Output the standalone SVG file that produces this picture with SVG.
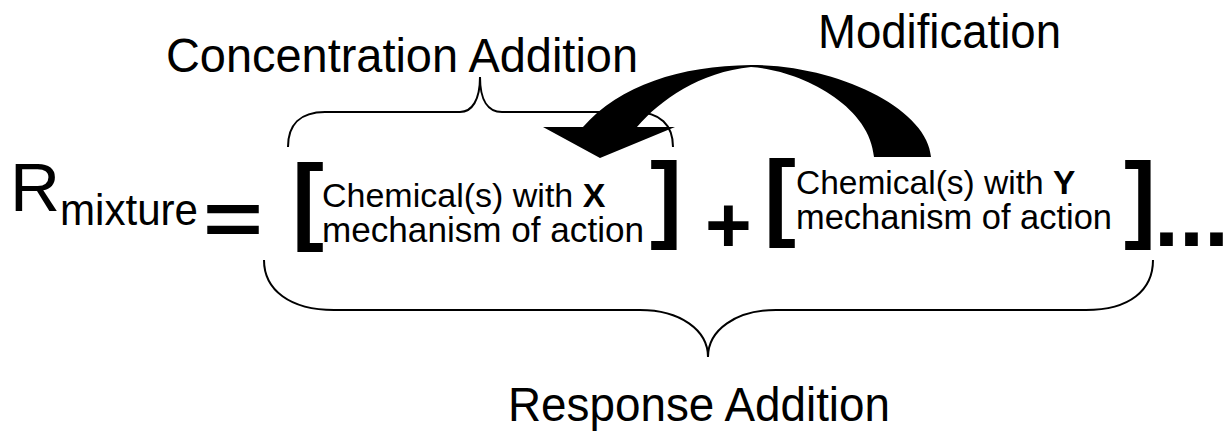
<svg xmlns="http://www.w3.org/2000/svg" width="1231" height="433" viewBox="0 0 1231 433">
<style>
text{font-family:"Liberation Sans",Arial,sans-serif;fill:#000}
.lbl{font-size:48px}
.chem{font-size:35px}
.br{font-size:96px;font-weight:bold}
.brace{fill:none;stroke:#000;stroke-width:2}
</style>
<rect width="1231" height="433" fill="#fff"/>
<g id="label-concentration"><text class="lbl" x="166" y="72" textLength="472" lengthAdjust="spacingAndGlyphs">Concentration Addition</text></g>
<g id="label-modification"><text class="lbl" x="818" y="48" textLength="243" lengthAdjust="spacingAndGlyphs">Modification</text></g>
<g id="equation-lhs">
<text x="10" y="211" style="font-size:68px" textLength="50" lengthAdjust="spacingAndGlyphs">R</text>
<text x="60" y="225" style="font-size:44px" textLength="138" lengthAdjust="spacingAndGlyphs">mixture</text>
<text x="203" y="245" style="font-size:76px;font-weight:bold" textLength="60" lengthAdjust="spacingAndGlyphs">=</text>
</g>
<g id="term-x">
<text class="br" x="292" y="232">[</text>
<text class="chem" x="322" y="207" style="font-size:34px">Chemical(s) with <tspan font-weight="bold">X</tspan></text>
<text class="chem" x="322" y="242" textLength="322" lengthAdjust="spacingAndGlyphs">mechanism of action</text>
<text class="br" x="650" y="230">]</text>
</g>
<g id="plus"><text x="705" y="252" style="font-size:80px;font-weight:bold">+</text></g>
<g id="term-y">
<text class="br" x="764" y="228">[</text>
<text class="chem" x="796" y="194" style="font-size:33.5px">Chemical(s) with <tspan font-weight="bold">Y</tspan></text>
<text class="chem" x="796" y="229" textLength="316" lengthAdjust="spacingAndGlyphs">mechanism of action</text>
<text class="br" x="1124" y="230">]</text>
</g>
<g id="ellipsis"><text x="1154" y="246" style="font-size:90px;font-weight:bold">...</text></g>
<g id="label-response"><text class="lbl" x="508" y="421" textLength="382" lengthAdjust="spacingAndGlyphs">Response Addition</text></g>
<g id="connectors">
<path id="brace-concentration" class="brace" d="M288,147 C288,125 300,112 325,112 L460,112 C472,112 480,100 480,77 C480,100 488,112 502,112 L635,112 C660,112 673,125 673,147"/>
<path id="brace-response" class="brace" d="M264,260 C264,290 290,310 334,310 L640,310 C680,310 708,330 708,357 C708,330 736,310 776,310 L1086,310 C1130,310 1153,290 1153,260"/>
<path id="arrow-modification" fill="#000" d="M931,157 C928,110 840,65 751,65 C680,66 620,85 583,127 L543,127 L600,158 L675,127 L637,127 C660,100 700,72 751,67 C800,70 870,105 874,157 Z"/>
</g>
</svg>
